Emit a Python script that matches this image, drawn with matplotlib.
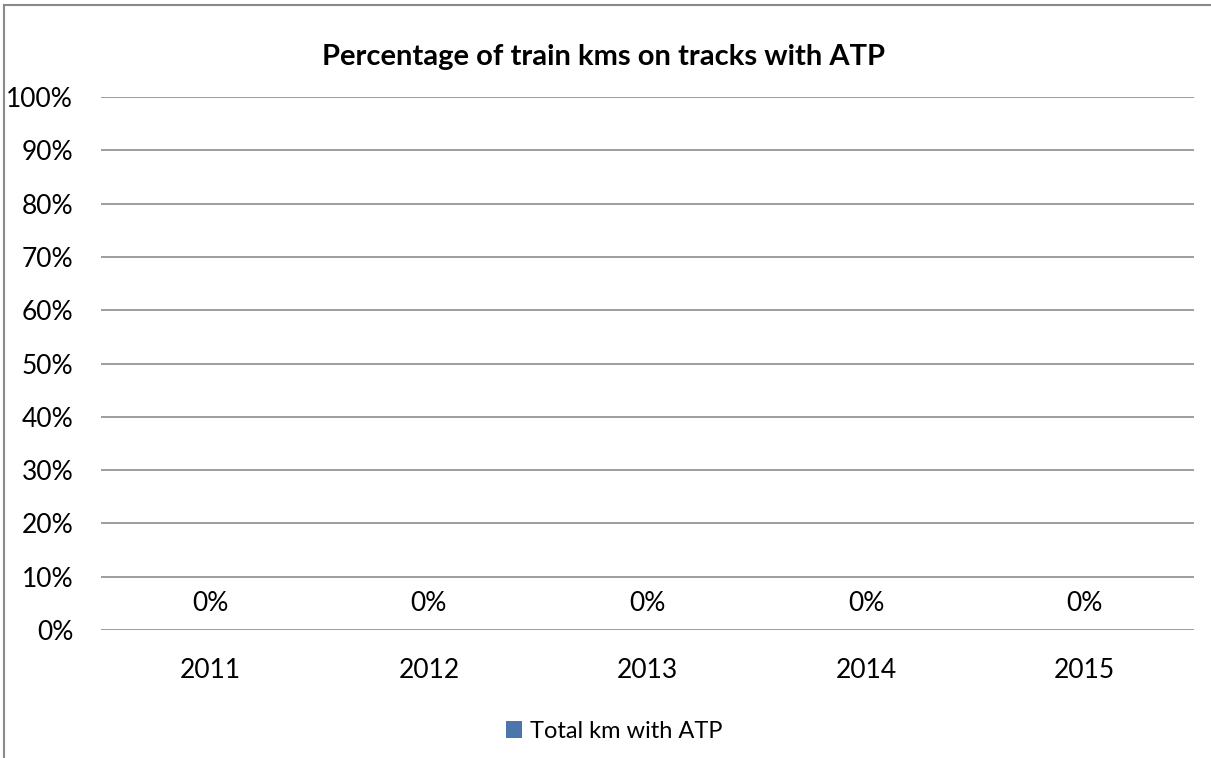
import matplotlib
matplotlib.use("Agg")
import matplotlib.pyplot as plt
from matplotlib.patches import Patch

years = ["2011", "2012", "2013", "2014", "2015"]
values = [0, 0, 0, 0, 0]
series_name = "Total km with ATP"
title = "Percentage of train kms on tracks with ATP"
yticks = [0, 10, 20, 30, 40, 50, 60, 70, 80, 90, 100]

plt.rcParams['font.family'] = ['Lato', 'DejaVu Sans']

W, H = 1211, 758
fig = plt.figure(figsize=(W / 100, H / 100), dpi=100)
fig.patch.set_facecolor("white")

# chart border (left and top visible)
fig.add_artist(plt.Line2D([4 / W, 4 / W], [0, 1 - 5 / H], transform=fig.transFigure,
                          color="#8a8a8a", lw=1.5))
fig.add_artist(plt.Line2D([4 / W, 1.01], [1 - 5 / H, 1 - 5 / H], transform=fig.transFigure,
                          color="#8a8a8a", lw=1.5))

left, right = 101 / W, 1194 / W
top, bottom = 1 - 97 / H, 1 - 630 / H
ax = fig.add_axes([left, bottom, right - left, top - bottom])

color = "#4A76AB"
x = list(range(len(years)))
ax.bar(x, values, width=0.6, color=color, label=series_name)
ax.set_xlim(-0.5, len(years) - 0.5)
ax.set_ylim(0, 100)
ax.set_yticks(yticks)
ax.set_yticklabels([f"{v}%" for v in yticks])
ax.set_xticks(x)
ax.set_xticklabels(years)
ax.tick_params(axis="both", length=0, labelsize=19, colors="#000000")
ax.tick_params(axis="y", pad=20)
ax.tick_params(axis="x", pad=20)
for s in ax.spines.values():
    s.set_visible(False)
ax.yaxis.grid(True, color="#8c8c8c", lw=1.2)
ax.set_axisbelow(True)

for xi, v in zip(x, values):
    ax.annotate(f"{v}%", (xi, v), xytext=(0, 10), textcoords="offset points",
                ha="center", va="bottom", fontsize=19)

fig.text(603 / W, 1 - 57 / H, title, ha="center", va="center", fontsize=21,
         fontweight="bold")

fig.legend(handles=[Patch(facecolor=color, label=series_name)], loc="center",
           bbox_to_anchor=(614 / W, 1 - 731 / H), frameon=False, fontsize=17,
           handlelength=0.7, handleheight=0.7, handletextpad=0.3)

fig.savefig("out.png", dpi=100)
